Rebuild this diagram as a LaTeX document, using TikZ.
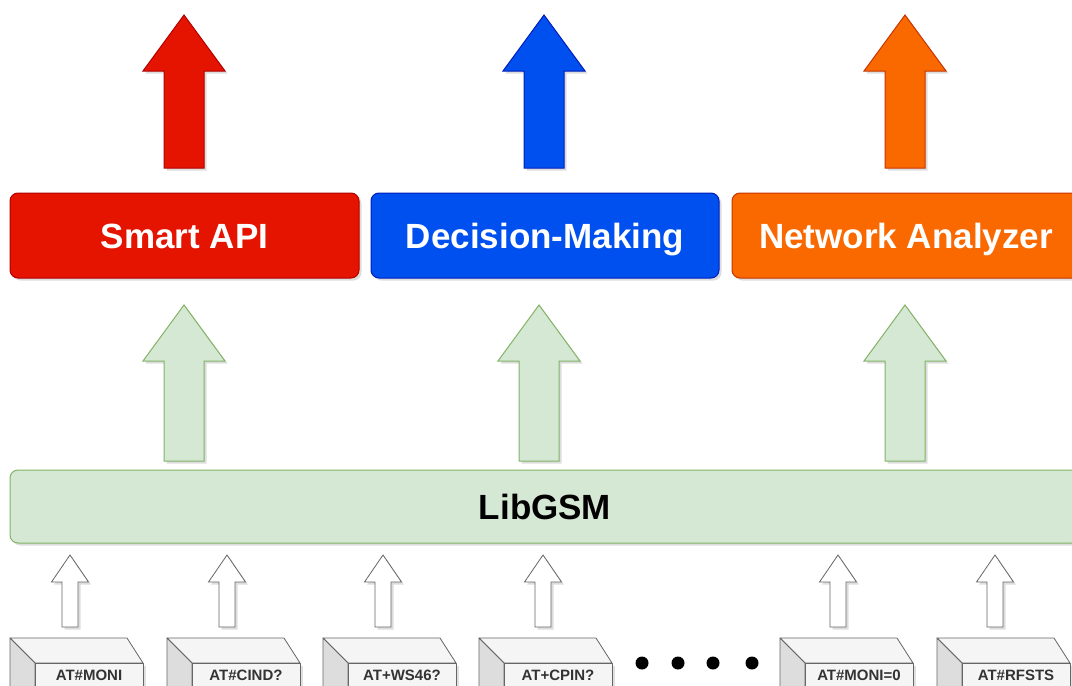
\documentclass[tikz,border=0pt]{standalone}
\usepackage{fontspec}
\setmainfont{Liberation Sans}
\usetikzlibrary{shadows}

\definecolor{apifill}{HTML}{E51400}
\definecolor{apiline}{HTML}{B20000}
\definecolor{decfill}{HTML}{0050EF}
\definecolor{decline}{HTML}{001DBC}
\definecolor{netfill}{HTML}{FA6800}
\definecolor{netline}{HTML}{C73500}
\definecolor{gsmfill}{HTML}{D5E8D4}
\definecolor{gsmline}{HTML}{82B366}
\definecolor{cubeline}{HTML}{666666}
\definecolor{cubefront}{HTML}{F5F5F5}
\definecolor{cubeside}{HTML}{DDDDDD}
\definecolor{cubetext}{HTML}{333333}

\tikzset{
  softshadow/.style={drop shadow={shadow xshift=2.5pt, shadow yshift=-2.5pt, opacity=0.22, fill=black!60}},
  bigtext/.style={font=\fontsize{35}{40}\selectfont\bfseries, text height=25pt, text depth=0pt},
  layerbox/.style={rounded corners=8pt, line width=1pt, text=white, bigtext, softshadow},
  gsmbox/.style={rounded corners=8pt, line width=1pt, fill=gsmfill, draw=gsmline,
    text=black, bigtext, softshadow},
  cubeface/.style={draw=cubeline, line width=0.8pt, line join=round},
  cubelabel/.style={text=cubetext, font=\fontsize{15}{17}\selectfont\bfseries, inner sep=0pt},
  blockarrow/.style={line width=1pt, line join=miter, softshadow},
  smallarrow/.style={fill=white, draw=cubeline, line width=0.8pt, softshadow},
}

% upward block arrow: centre x, tip y, head base y, bottom y, half head width, half shaft width
\newcommand\uparrowshape[7]{%
  \path[#1] (#2,#3) -- (#2+#6,#4) -- (#2+#7,#4) -- (#2+#7,#5)
    -- (#2-#7,#5) -- (#2-#7,#4) -- (#2-#6,#4) -- cycle;}

% command box drawn as a cuboid: name, left x, label
\newcommand\atcube[3]{%
  \fill[black, opacity=0.12] (#2+27.5,665.5) rectangle (#2+135.5,700);
  \path[cubeface, fill=cubefront] (#2,638) -- (#2+117,638) -- (#2+133,663) -- (#2+25,663) -- cycle;
  \path[cubeface, fill=cubeside] (#2,638) -- (#2+25,663) -- (#2+25,700) -- (#2,700) -- cycle;
  \path[cubeface, fill=cubefront] (#2+25,663) rectangle (#2+133,700);
  \node[cubelabel] (#1) at (#2+79,675) {#3};}

\begin{document}
\begin{tikzpicture}[x=1pt, y=-1pt]
\useasboundingbox (0,0) rectangle (1072,686);
\clip (0,0) rectangle (1072,686);
\fill[white] (0,0) rectangle (1072,686);

% output arrows above the three services
\uparrowshape{blockarrow, fill=apifill, draw=apiline}{184}{15}{71}{168}{41}{20}
\uparrowshape{blockarrow, fill=decfill, draw=decline}{544}{15}{71}{168}{41}{20}
\uparrowshape{blockarrow, fill=netfill, draw=netline}{905}{15}{71}{168}{41}{20}

% service layer
\node[layerbox, fill=apifill, draw=apiline, minimum width=349pt, minimum height=85pt] (api) at (184.5,235.5) {Smart API};
\node[layerbox, fill=decfill, draw=decline, minimum width=348pt, minimum height=85pt] (dec) at (545,235.5) {Decision-Making};
\node[layerbox, fill=netfill, draw=netline, minimum width=348pt, minimum height=85pt] (net) at (906,235.5) {Network Analyzer};

% arrows from the library to the services
\uparrowshape{blockarrow, fill=gsmfill, draw=gsmline}{184}{305}{361}{461}{41}{20}
\uparrowshape{blockarrow, fill=gsmfill, draw=gsmline}{539}{305}{361}{461}{41}{20}
\uparrowshape{blockarrow, fill=gsmfill, draw=gsmline}{905}{305}{361}{461}{41}{20}

% library layer
\node[gsmbox, minimum width=1070pt, minimum height=73pt] (gsm) at (545,506.5) {LibGSM};

% AT command arrows
\foreach \cx in {70,227,383,543,838,995}
  \uparrowshape{smallarrow}{\cx}{555}{582}{627}{18.5}{8};

% AT commands
\atcube{moni}{10}{AT\#MONI}
\atcube{cind}{167}{AT\#CIND?}
\atcube{ws}{323}{AT+WS46?}
\atcube{cpin}{479}{AT+CPIN?}
\atcube{monizero}{780}{AT\#MONI=0}
\atcube{rfsts}{937}{AT\#RFSTS}

% ellipsis
\foreach \dx in {642,678,713,752}
  \fill[black] (\dx,663) circle (6.5pt);
\end{tikzpicture}
\end{document}
